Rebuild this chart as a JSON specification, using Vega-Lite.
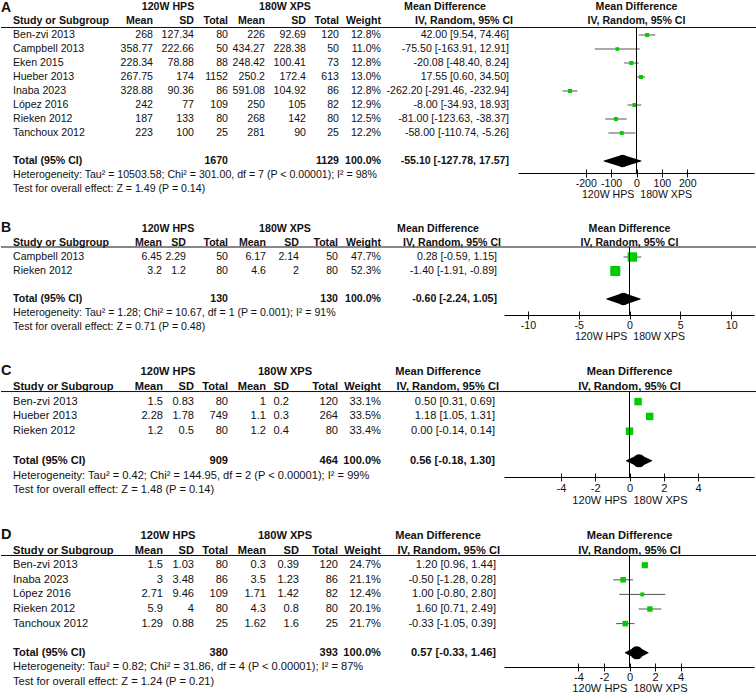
{
"$schema": "https://vega.github.io/schema/vega-lite/v6.json",
"padding": 0,
"background": "white",
"bounds": "flush",
"spacing": 20,
"config": {"view": {"stroke": null}, "text": {"font": "Liberation Sans", "fontSize": 10.6, "color": "#111", "baseline": "middle"}},
"vconcat": [
{
 "width": 756, "height": 173,
 "data": {"values": [
  {"k":"h","st":"Study or Subgroup","m1":"Mean","s1":"SD","n1":"Total","m2":"Mean","s2":"SD","n2":"Total","w":"Weight","ci":"IV, Random, 95% CI"},
  {"k":"s","st":"Ben-zvi 2013","m1":"268","s1":"127.34","n1":"80","m2":"226","s2":"92.69","n2":"120","w":"12.8%","ci":"42.00 [9.54, 74.46]","md":42.00,"lo":9.54,"hi":74.46,"wt":12.8},
  {"k":"s","st":"Campbell 2013","m1":"358.77","s1":"222.66","n1":"50","m2":"434.27","s2":"228.38","n2":"50","w":"11.0%","ci":"-75.50 [-163.91, 12.91]","md":-75.50,"lo":-163.91,"hi":12.91,"wt":11.0},
  {"k":"s","st":"Eken 2015","m1":"228.34","s1":"78.88","n1":"88","m2":"248.42","s2":"100.41","n2":"73","w":"12.8%","ci":"-20.08 [-48.40, 8.24]","md":-20.08,"lo":-48.40,"hi":8.24,"wt":12.8},
  {"k":"s","st":"Hueber 2013","m1":"267.75","s1":"174","n1":"1152","m2":"250.2","s2":"172.4","n2":"613","w":"13.0%","ci":"17.55 [0.60, 34.50]","md":17.55,"lo":0.60,"hi":34.50,"wt":13.0},
  {"k":"s","st":"Inaba 2023","m1":"328.88","s1":"90.36","n1":"86","m2":"591.08","s2":"104.92","n2":"86","w":"12.8%","ci":"-262.20 [-291.46, -232.94]","md":-262.20,"lo":-291.46,"hi":-232.94,"wt":12.8},
  {"k":"s","st":"López 2016","m1":"242","s1":"77","n1":"109","m2":"250","s2":"105","n2":"82","w":"12.9%","ci":"-8.00 [-34.93, 18.93]","md":-8.00,"lo":-34.93,"hi":18.93,"wt":12.9},
  {"k":"s","st":"Rieken 2012","m1":"187","s1":"133","n1":"80","m2":"268","s2":"142","n2":"80","w":"12.5%","ci":"-81.00 [-123.63, -38.37]","md":-81.00,"lo":-123.63,"hi":-38.37,"wt":12.5},
  {"k":"s","st":"Tanchoux 2012","m1":"223","s1":"100","n1":"25","m2":"281","s2":"90","n2":"25","w":"12.2%","ci":"-58.00 [-110.74, -5.26]","md":-58.00,"lo":-110.74,"hi":-5.26,"wt":12.2},
  {"k":"t","st":"Total (95% CI)","n1":"1670","n2":"1129","w":"100.0%","ci":"-55.10 [-127.78, 17.57]","md":-55.10,"lo":-127.78,"hi":17.57,"het":"Heterogeneity: Tau² = 10503.58; Chi² = 301.00, df = 7 (P < 0.00001); I² = 98%","test":"Test for overall effect: Z = 1.49 (P = 0.14)"}
 ]},
 "resolve": {"scale": {"x": "independent"}, "axis": {"x": "independent"}},
 "layer": [
  {"layer": [
   {"mark": {"type": "text", "align": "left", "dx": 12, "fontWeight": {"expr": "datum.k=='s'?'normal':'bold'"}},
    "encoding": {
     "x": {"datum": "st", "type": "nominal", "scale": {"type": "point", "domain": ["st","g1","g2","g3","m1","s1","n1","m2","s2","n2","w","g4","g5","ci"], "range": [0, 494], "padding": 0}, "axis": null},
     "y": {"field": "st", "type": "nominal", "scale": {"type": "band", "domain": ["g","Study or Subgroup","Ben-zvi 2013","Campbell 2013","Eken 2015","Hueber 2013","Inaba 2023","López 2016","Rieken 2012","Tanchoux 2012","b","Total (95% CI)","het","test"], "range": [0, 196], "paddingInner": 0, "paddingOuter": 0}, "axis": null},
     "text": {"field": "st", "type": "nominal"}}},
   {"transform": [{"fold": ["m1","s1","n1","m2","s2","n2","w"], "as": ["key","v"]}, {"filter": "isValid(datum.v)"}],
    "mark": {"type": "text", "align": "right", "dx": {"expr": "datum.key=='s1'?3:datum.key=='n1'?-1:datum.key=='m2'?-2:datum.key=='s2'?1:datum.key=='n2'?-4:0"}, "fontWeight": {"expr": "datum.k=='s'?'normal':'bold'"}},
    "encoding": {"x": {"field": "key", "type": "nominal", "axis": null}, "y": {"field": "st", "type": "nominal", "axis": null}, "text": {"field": "v", "type": "nominal"}}},
   {"mark": {"type": "text", "align": "right", "dx": {"expr": "datum.k=='h'?18:14"}, "fontWeight": {"expr": "datum.k=='s'?'normal':'bold'"}},
    "encoding": {"x": {"datum": "ci", "type": "nominal", "axis": null}, "y": {"field": "st", "type": "nominal", "axis": null}, "text": {"field": "ci", "type": "nominal"}}},
   {"transform": [{"filter": "datum.k=='t'"}, {"fold": ["het","test"], "as": ["yk","txt"]}],
    "mark": {"type": "text", "align": "left", "dx": 12},
    "encoding": {"x": {"datum": "st", "type": "nominal", "axis": null}, "y": {"field": "yk", "type": "nominal", "axis": null}, "text": {"field": "txt", "type": "nominal"}}},
   {"data": {"values": [{"t": "120W HPS", "c": "s1"}, {"t": "180W XPS", "c": "s2"}, {"t": "Mean Difference", "c": "ci"}]},
    "mark": {"type": "text", "align": "center", "fontWeight": "bold", "dx": {"expr": "datum.c=='s1'?-23:datum.c=='s2'?-20:-50"}},
    "encoding": {"x": {"field": "c", "type": "nominal", "axis": null}, "y": {"datum": "g", "type": "nominal", "axis": null}, "text": {"field": "t", "type": "nominal"}}},
   {"data": {"values": [{"t": "A"}]},
    "mark": {"type": "text", "align": "left", "fontWeight": "bold", "fontSize": 14, "dy": 1},
    "encoding": {"x": {"datum": "st", "type": "nominal", "axis": null}, "y": {"datum": "g", "type": "nominal", "axis": null}, "text": {"field": "t", "type": "nominal"}}},
   {"data": {"values": [{}]},
    "mark": {"type": "rule", "color": "#111", "strokeWidth": 1},
    "encoding": {"y": {"datum": "Study or Subgroup", "type": "nominal", "bandPosition": 0.964, "axis": null}}}
  ]},
  {"resolve": {"scale": {"size": "independent"}},
   "layer": [
   {"transform": [{"filter": "datum.k=='s'"}],
    "mark": {"type": "rule", "color": "#555", "strokeWidth": 1},
    "encoding": {
     "x": {"field": "lo", "type": "quantitative", "scale": {"domain": [-465, 465], "range": [517.5, 753.5], "nice": false, "zero": false},
      "axis": {"orient": "bottom", "values": [-200,-100,0,100,200], "domain": false, "grid": false, "offset": -4, "tickSize": 8, "tickColor": "#111", "labelFont": "Liberation Sans", "labelFontSize": 10.6, "labelColor": "#111", "labelPadding": 1, "labelOverlap": false, "labelFlush": false, "labelExpr": "replace(datum.label, '\u2212', '-')", "title": "120W HPS\u00a0\u00a0180W XPS", "titleFont": "Liberation Sans", "titleFontSize": 10.6, "titleFontWeight": "normal", "titleColor": "#111", "titlePadding": 1}},
     "x2": {"field": "hi"},
     "y": {"field": "st", "type": "nominal", "axis": null}}},
   {"transform": [{"filter": "datum.k=='s'"}],
    "mark": {"type": "point", "shape": "square", "filled": true, "color": "#00cc00", "opacity": 1},
    "encoding": {"x": {"field": "md", "type": "quantitative"}, "y": {"field": "st", "type": "nominal", "axis": null},
     "size": {"field": "wt", "type": "quantitative", "scale": {"type": "pow", "exponent": 1.3, "domain": [0, 100], "range": [0, 232]}, "legend": null}}},
   {"transform": [{"filter": "datum.k=='t'"}, {"fold": ["lo","md","hi"], "as": ["dk","v"]}],
    "mark": {"type": "trail", "color": "#000"},
    "encoding": {"x": {"field": "v", "type": "quantitative"}, "y": {"field": "st", "type": "nominal", "axis": null},
     "size": {"field": "dk", "type": "ordinal", "scale": {"type": "ordinal", "domain": ["lo","md","hi"], "range": [0, 12.5, 0]}, "legend": null},
     "order": {"field": "v", "type": "quantitative"}}},
   {"data": {"values": [{}]}, "mark": {"type": "rule", "color": "#000", "strokeWidth": 1},
    "encoding": {"x": {"datum": 0, "type": "quantitative"}, "y": {"datum": "Study or Subgroup", "type": "nominal", "bandPosition": 0.964, "axis": null}, "y2": {"datum": "het", "bandPosition": 0.3929}}},
   {"data": {"values": [{}]}, "mark": {"type": "rule", "color": "#000", "strokeWidth": 1},
    "encoding": {"x": {"datum": -465, "type": "quantitative"}, "x2": {"datum": 465}, "y": {"datum": "het", "type": "nominal", "bandPosition": 0.3929, "axis": null}}},
   {"data": {"values": [{"t": "Mean Difference", "r": "g"}, {"t": "IV, Random, 95% CI", "r": "Study or Subgroup"}]},
    "mark": {"type": "text", "align": "center", "fontWeight": "bold"},
    "encoding": {"x": {"datum": 0, "type": "quantitative"}, "y": {"field": "r", "type": "nominal", "axis": null}, "text": {"field": "t", "type": "nominal"}}}
  ]}
 ]
},
{
 "width": 756, "height": 122,
 "data": {"values": [
  {"k":"h","st":"Study or Subgroup","m1":"Mean","s1":"SD","n1":"Total","m2":"Mean","s2":"SD","n2":"Total","w":"Weight","ci":"IV, Random, 95% CI"},
  {"k":"s","st":"Campbell 2013","m1":"6.45","s1":"2.29","n1":"50","m2":"6.17","s2":"2.14","n2":"50","w":"47.7%","ci":"0.28 [-0.59, 1.15]","md":0.28,"lo":-0.59,"hi":1.15,"wt":47.7},
  {"k":"s","st":"Rieken 2012","m1":"3.2","s1":"1.2","n1":"80","m2":"4.6","s2":"2","n2":"80","w":"52.3%","ci":"-1.40 [-1.91, -0.89]","md":-1.40,"lo":-1.91,"hi":-0.89,"wt":52.3},
  {"k":"t","st":"Total (95% CI)","n1":"130","n2":"130","w":"100.0%","ci":"-0.60 [-2.24, 1.05]","md":-0.60,"lo":-2.24,"hi":1.05,"het":"Heterogeneity: Tau² = 1.28; Chi² = 10.67, df = 1 (P = 0.001); I² = 91%","test":"Test for overall effect: Z = 0.71 (P = 0.48)"}
 ]},
 "resolve": {"scale": {"x": "independent"}, "axis": {"x": "independent"}},
 "layer": [
  {"layer": [
   {"mark": {"type": "text", "align": "left", "dx": 12, "fontWeight": {"expr": "datum.k=='s'?'normal':'bold'"}},
    "encoding": {
     "x": {"datum": "st", "type": "nominal", "scale": {"type": "point", "domain": ["st","g1","g2","g3","m1","s1","n1","m2","s2","n2","w","g4","g5","ci"], "range": [0, 494], "padding": 0}, "axis": null},
     "y": {"field": "st", "type": "nominal", "scale": {"type": "band", "domain": ["g","Study or Subgroup","Campbell 2013","Rieken 2012","b","Total (95% CI)","het","test"], "range": [29, 141], "paddingInner": 0, "paddingOuter": 0}, "axis": null},
     "text": {"field": "st", "type": "nominal"}}},
   {"transform": [{"fold": ["m1","s1","n1","m2","s2","n2","w"], "as": ["key","v"]}, {"filter": "isValid(datum.v)"}],
    "mark": {"type": "text", "align": "right", "dx": {"expr": "datum.key=='m1'?9:datum.key=='s1'?-5:datum.key=='n1'?-1:datum.key=='m2'?-1:datum.key=='s2'?-6:datum.key=='n2'?-5:0"}, "fontWeight": {"expr": "datum.k=='s'?'normal':'bold'"}},
    "encoding": {"x": {"field": "key", "type": "nominal", "axis": null}, "y": {"field": "st", "type": "nominal", "axis": null}, "text": {"field": "v", "type": "nominal"}}},
   {"mark": {"type": "text", "align": "right", "dx": {"expr": "datum.k=='h'?6:2"}, "fontWeight": {"expr": "datum.k=='s'?'normal':'bold'"}},
    "encoding": {"x": {"datum": "ci", "type": "nominal", "axis": null}, "y": {"field": "st", "type": "nominal", "axis": null}, "text": {"field": "ci", "type": "nominal"}}},
   {"transform": [{"filter": "datum.k=='t'"}, {"fold": ["het","test"], "as": ["yk","txt"]}],
    "mark": {"type": "text", "align": "left", "dx": 12},
    "encoding": {"x": {"datum": "st", "type": "nominal", "axis": null}, "y": {"field": "yk", "type": "nominal", "axis": null}, "text": {"field": "txt", "type": "nominal"}}},
   {"data": {"values": [{"t": "120W HPS", "c": "s1"}, {"t": "180W XPS", "c": "s2"}, {"t": "Mean Difference", "c": "ci"}]},
    "mark": {"type": "text", "align": "center", "fontWeight": "bold", "dx": {"expr": "datum.c=='s1'?-23:datum.c=='s2'?-20:-57"}},
    "encoding": {"x": {"field": "c", "type": "nominal", "axis": null}, "y": {"datum": "g", "type": "nominal", "axis": null}, "text": {"field": "t", "type": "nominal"}}},
   {"data": {"values": [{"t": "B"}]},
    "mark": {"type": "text", "align": "left", "fontWeight": "bold", "fontSize": 14, "dy": -1},
    "encoding": {"x": {"datum": "st", "type": "nominal", "axis": null}, "y": {"datum": "g", "type": "nominal", "axis": null}, "text": {"field": "t", "type": "nominal"}}},
   {"data": {"values": [{}]},
    "mark": {"type": "rule", "color": "#111", "strokeWidth": 1},
    "encoding": {"y": {"datum": "Study or Subgroup", "type": "nominal", "bandPosition": 0.786, "axis": null}}}
  ]},
  {"resolve": {"scale": {"size": "independent"}},
   "layer": [
   {"transform": [{"filter": "datum.k=='s'"}],
    "mark": {"type": "rule", "color": "#555", "strokeWidth": 1},
    "encoding": {
     "x": {"field": "lo", "type": "quantitative", "scale": {"domain": [-12.3, 12.3], "range": [503.5, 753.5], "nice": false, "zero": false},
      "axis": {"orient": "bottom", "values": [-10,-5,0,5,10], "domain": false, "grid": false, "offset": -4, "tickSize": 8, "tickColor": "#111", "labelFont": "Liberation Sans", "labelFontSize": 10.6, "labelColor": "#111", "labelPadding": 1, "labelOverlap": false, "labelFlush": false, "labelExpr": "replace(datum.label, '\u2212', '-')", "title": "120W HPS\u00a0\u00a0180W XPS", "titleFont": "Liberation Sans", "titleFontSize": 10.6, "titleFontWeight": "normal", "titleColor": "#111", "titlePadding": 1}},
     "x2": {"field": "hi"},
     "y": {"field": "st", "type": "nominal", "axis": null}}},
   {"transform": [{"filter": "datum.k=='s'"}],
    "mark": {"type": "point", "shape": "square", "filled": true, "color": "#00cc00", "opacity": 1},
    "encoding": {"x": {"field": "md", "type": "quantitative"}, "y": {"field": "st", "type": "nominal", "axis": null},
     "size": {"field": "wt", "type": "quantitative", "scale": {"type": "pow", "exponent": 1.3, "domain": [0, 100], "range": [0, 232]}, "legend": null}}},
   {"transform": [{"filter": "datum.k=='t'"}, {"fold": ["lo","md","hi"], "as": ["dk","v"]}],
    "mark": {"type": "trail", "color": "#000"},
    "encoding": {"x": {"field": "v", "type": "quantitative"}, "y": {"field": "st", "type": "nominal", "axis": null},
     "size": {"field": "dk", "type": "ordinal", "scale": {"type": "ordinal", "domain": ["lo","md","hi"], "range": [0, 12.5, 0]}, "legend": null},
     "order": {"field": "v", "type": "quantitative"}}},
   {"data": {"values": [{}]}, "mark": {"type": "rule", "color": "#000", "strokeWidth": 1},
    "encoding": {"x": {"datum": 0, "type": "quantitative"}, "y": {"datum": "Study or Subgroup", "type": "nominal", "bandPosition": 0.786, "axis": null}, "y2": {"datum": "het", "bandPosition": 0.6786}}},
   {"data": {"values": [{}]}, "mark": {"type": "rule", "color": "#000", "strokeWidth": 1},
    "encoding": {"x": {"datum": -12.3, "type": "quantitative"}, "x2": {"datum": 12.3}, "y": {"datum": "het", "type": "nominal", "bandPosition": 0.6786, "axis": null}}},
   {"data": {"values": [{"t": "Mean Difference", "r": "g"}, {"t": "IV, Random, 95% CI", "r": "Study or Subgroup"}]},
    "mark": {"type": "text", "align": "center", "fontWeight": "bold"},
    "encoding": {"x": {"datum": 0, "type": "quantitative"}, "y": {"field": "r", "type": "nominal", "axis": null}, "text": {"field": "t", "type": "nominal"}}}
  ]}
 ]
},
{
 "width": 756, "height": 142,
 "data": {"values": [
  {"k":"h","st":"Study or Subgroup","m1":"Mean","s1":"SD","n1":"Total","m2":"Mean","s2":"SD","n2":"Total","w":"Weight","ci":"IV, Random, 95% CI"},
  {"k":"s","st":"Ben-zvi 2013","m1":"1.5","s1":"0.83","n1":"80","m2":"1","s2":"0.2","n2":"120","w":"33.1%","ci":"0.50 [0.31, 0.69]","md":0.50,"lo":0.31,"hi":0.69,"wt":33.1},
  {"k":"s","st":"Hueber 2013","m1":"2.28","s1":"1.78","n1":"749","m2":"1.1","s2":"0.3","n2":"264","w":"33.5%","ci":"1.18 [1.05, 1.31]","md":1.18,"lo":1.05,"hi":1.31,"wt":33.5},
  {"k":"s","st":"Rieken 2012","m1":"1.2","s1":"0.5","n1":"80","m2":"1.2","s2":"0.4","n2":"80","w":"33.4%","ci":"0.00 [-0.14, 0.14]","md":0.00,"lo":-0.14,"hi":0.14,"wt":33.4},
  {"k":"t","st":"Total (95% CI)","n1":"909","n2":"464","w":"100.0%","ci":"0.56 [-0.18, 1.30]","md":0.56,"lo":-0.18,"hi":1.30,"het":"Heterogeneity: Tau² = 0.42; Chi² = 144.95, df = 2 (P < 0.00001); I² = 99%","test":"Test for overall effect: Z = 1.48 (P = 0.14)"}
 ]},
 "resolve": {"scale": {"x": "independent"}, "axis": {"x": "independent"}},
 "layer": [
  {"layer": [
   {"mark": {"type": "text", "align": "left", "dx": 12, "fontSize": 11.1, "fontWeight": {"expr": "datum.k=='s'?'normal':'bold'"}},
    "encoding": {
     "x": {"datum": "st", "type": "nominal", "scale": {"type": "point", "domain": ["st","g1","g2","g3","m1","s1","n1","m2","s2","n2","w","g4","g5","ci"], "range": [0, 494], "padding": 0}, "axis": null},
     "y": {"field": "st", "type": "nominal", "scale": {"type": "band", "domain": ["g","Study or Subgroup","Ben-zvi 2013","Hueber 2013","Rieken 2012","b","Total (95% CI)","het","test"], "range": [29.6, 162.8], "paddingInner": 0, "paddingOuter": 0}, "axis": null},
     "text": {"field": "st", "type": "nominal"}}},
   {"transform": [{"fold": ["m1","s1","n1","m2","s2","n2","w"], "as": ["key","v"]}, {"filter": "isValid(datum.v)"}],
    "mark": {"type": "text", "align": "right", "fontSize": 11.1, "dx": {"expr": "datum.key=='m1'?10:datum.key=='s1'?3:datum.key=='n1'?-1:datum.key=='m2'?-1:datum.key=='s2'?-16:datum.key=='n2'?-5:0"}, "fontWeight": {"expr": "datum.k=='s'?'normal':'bold'"}},
    "encoding": {"x": {"field": "key", "type": "nominal", "axis": null}, "y": {"field": "st", "type": "nominal", "axis": null}, "text": {"field": "v", "type": "nominal"}}},
   {"mark": {"type": "text", "align": "right", "fontSize": 11.1, "dx": {"expr": "datum.k=='h'?4:0"}, "fontWeight": {"expr": "datum.k=='s'?'normal':'bold'"}},
    "encoding": {"x": {"datum": "ci", "type": "nominal", "axis": null}, "y": {"field": "st", "type": "nominal", "axis": null}, "text": {"field": "ci", "type": "nominal"}}},
   {"transform": [{"filter": "datum.k=='t'"}, {"fold": ["het","test"], "as": ["yk","txt"]}],
    "mark": {"type": "text", "align": "left", "dx": 12, "fontSize": 11.1},
    "encoding": {"x": {"datum": "st", "type": "nominal", "axis": null}, "y": {"field": "yk", "type": "nominal", "axis": null}, "text": {"field": "txt", "type": "nominal"}}},
   {"data": {"values": [{"t": "120W HPS", "c": "s1"}, {"t": "180W XPS", "c": "s2"}, {"t": "Mean Difference", "c": "ci"}]},
    "mark": {"type": "text", "align": "center", "fontWeight": "bold", "fontSize": 11.1, "dx": {"expr": "datum.c=='s1'?-23:datum.c=='s2'?-20:-57"}},
    "encoding": {"x": {"field": "c", "type": "nominal", "axis": null}, "y": {"datum": "g", "type": "nominal", "axis": null}, "text": {"field": "t", "type": "nominal"}}},
   {"data": {"values": [{"t": "C"}]},
    "mark": {"type": "text", "align": "left", "fontWeight": "bold", "fontSize": 14.5, "dy": -1},
    "encoding": {"x": {"datum": "st", "type": "nominal", "axis": null}, "y": {"datum": "g", "type": "nominal", "axis": null}, "text": {"field": "t", "type": "nominal"}}},
   {"data": {"values": [{}]},
    "mark": {"type": "rule", "color": "#111", "strokeWidth": 1},
    "encoding": {"y": {"datum": "Study or Subgroup", "type": "nominal", "bandPosition": 0.82, "axis": null}}}
  ]},
  {"resolve": {"scale": {"size": "independent"}},
   "layer": [
   {"transform": [{"filter": "datum.k=='s'"}],
    "mark": {"type": "rule", "color": "#555", "strokeWidth": 1},
    "encoding": {
     "x": {"field": "lo", "type": "quantitative", "scale": {"domain": [-7.3, 7.3], "range": [503.5, 753.5], "nice": false, "zero": false},
      "axis": {"orient": "bottom", "values": [-4,-2,0,2,4], "domain": false, "grid": false, "offset": -4, "tickSize": 8, "tickColor": "#111", "labelFont": "Liberation Sans", "labelFontSize": 11.1, "labelColor": "#111", "labelPadding": 1, "labelOverlap": false, "labelFlush": false, "labelExpr": "replace(datum.label, '\u2212', '-')", "title": "120W HPS\u00a0\u00a0180W XPS", "titleFont": "Liberation Sans", "titleFontSize": 11.1, "titleFontWeight": "normal", "titleColor": "#111", "titlePadding": 1}},
     "x2": {"field": "hi"},
     "y": {"field": "st", "type": "nominal", "axis": null}}},
   {"transform": [{"filter": "datum.k=='s'"}],
    "mark": {"type": "point", "shape": "square", "filled": true, "color": "#00cc00", "opacity": 1},
    "encoding": {"x": {"field": "md", "type": "quantitative"}, "y": {"field": "st", "type": "nominal", "axis": null},
     "size": {"field": "wt", "type": "quantitative", "scale": {"type": "pow", "exponent": 1.3, "domain": [0, 100], "range": [0, 232]}, "legend": null}}},
   {"transform": [{"filter": "datum.k=='t'"}, {"fold": ["lo","md","hi"], "as": ["dk","v"]}],
    "mark": {"type": "trail", "color": "#000"},
    "encoding": {"x": {"field": "v", "type": "quantitative"}, "y": {"field": "st", "type": "nominal", "axis": null},
     "size": {"field": "dk", "type": "ordinal", "scale": {"type": "ordinal", "domain": ["lo","md","hi"], "range": [0, 13, 0]}, "legend": null},
     "order": {"field": "v", "type": "quantitative"}}},
   {"data": {"values": [{}]}, "mark": {"type": "rule", "color": "#000", "strokeWidth": 1},
    "encoding": {"x": {"datum": 0, "type": "quantitative"}, "y": {"datum": "Study or Subgroup", "type": "nominal", "bandPosition": 0.82, "axis": null}, "y2": {"datum": "het", "bandPosition": 0.628}}},
   {"data": {"values": [{}]}, "mark": {"type": "rule", "color": "#000", "strokeWidth": 1},
    "encoding": {"x": {"datum": -7.3, "type": "quantitative"}, "x2": {"datum": 7.3}, "y": {"datum": "het", "type": "nominal", "bandPosition": 0.628, "axis": null}}},
   {"data": {"values": [{"t": "Mean Difference", "r": "g"}, {"t": "IV, Random, 95% CI", "r": "Study or Subgroup"}]},
    "mark": {"type": "text", "align": "center", "fontWeight": "bold", "fontSize": 11.1},
    "encoding": {"x": {"datum": 0, "type": "quantitative"}, "y": {"field": "r", "type": "nominal", "axis": null}, "text": {"field": "t", "type": "nominal"}}}
  ]}
 ]
},
{
 "width": 756, "height": 170,
 "data": {"values": [
  {"k":"h","st":"Study or Subgroup","m1":"Mean","s1":"SD","n1":"Total","m2":"Mean","s2":"SD","n2":"Total","w":"Weight","ci":"IV, Random, 95% CI"},
  {"k":"s","st":"Ben-zvi 2013","m1":"1.5","s1":"1.03","n1":"80","m2":"0.3","s2":"0.39","n2":"120","w":"24.7%","ci":"1.20 [0.96, 1.44]","md":1.20,"lo":0.96,"hi":1.44,"wt":24.7},
  {"k":"s","st":"Inaba 2023","m1":"3","s1":"3.48","n1":"86","m2":"3.5","s2":"1.23","n2":"86","w":"21.1%","ci":"-0.50 [-1.28, 0.28]","md":-0.50,"lo":-1.28,"hi":0.28,"wt":21.1},
  {"k":"s","st":"López 2016","m1":"2.71","s1":"9.46","n1":"109","m2":"1.71","s2":"1.42","n2":"82","w":"12.4%","ci":"1.00 [-0.80, 2.80]","md":1.00,"lo":-0.80,"hi":2.80,"wt":12.4},
  {"k":"s","st":"Rieken 2012","m1":"5.9","s1":"4","n1":"80","m2":"4.3","s2":"0.8","n2":"80","w":"20.1%","ci":"1.60 [0.71, 2.49]","md":1.60,"lo":0.71,"hi":2.49,"wt":20.1},
  {"k":"s","st":"Tanchoux 2012","m1":"1.29","s1":"0.88","n1":"25","m2":"1.62","s2":"1.6","n2":"25","w":"21.7%","ci":"-0.33 [-1.05, 0.39]","md":-0.33,"lo":-1.05,"hi":0.39,"wt":21.7},
  {"k":"t","st":"Total (95% CI)","n1":"380","n2":"393","w":"100.0%","ci":"0.57 [-0.33, 1.46]","md":0.57,"lo":-0.33,"hi":1.46,"het":"Heterogeneity: Tau² = 0.82; Chi² = 31.86, df = 4 (P < 0.00001); I² = 87%","test":"Test for overall effect: Z = 1.24 (P = 0.21)"}
 ]},
 "resolve": {"scale": {"x": "independent"}, "axis": {"x": "independent"}},
 "layer": [
  {"layer": [
   {"mark": {"type": "text", "align": "left", "dx": 12, "fontSize": 11.1, "fontWeight": {"expr": "datum.k=='s'?'normal':'bold'"}},
    "encoding": {
     "x": {"datum": "st", "type": "nominal", "scale": {"type": "point", "domain": ["st","g1","g2","g3","m1","s1","n1","m2","s2","n2","w","g4","g5","ci"], "range": [0, 494], "padding": 0}, "axis": null},
     "y": {"field": "st", "type": "nominal", "scale": {"type": "band", "domain": ["g","Study or Subgroup","Ben-zvi 2013","Inaba 2023","López 2016","Rieken 2012","Tanchoux 2012","b","Total (95% CI)","het","test"], "range": [31.7, 192.3], "paddingInner": 0, "paddingOuter": 0}, "axis": null},
     "text": {"field": "st", "type": "nominal"}}},
   {"transform": [{"fold": ["m1","s1","n1","m2","s2","n2","w"], "as": ["key","v"]}, {"filter": "isValid(datum.v)"}],
    "mark": {"type": "text", "align": "right", "fontSize": 11.1, "dx": {"expr": "datum.key=='m1'?10:datum.key=='s1'?3:datum.key=='n1'?-1:datum.key=='m2'?-1:datum.key=='s2'?-6:datum.key=='n2'?-5:0"}, "fontWeight": {"expr": "datum.k=='s'?'normal':'bold'"}},
    "encoding": {"x": {"field": "key", "type": "nominal", "axis": null}, "y": {"field": "st", "type": "nominal", "axis": null}, "text": {"field": "v", "type": "nominal"}}},
   {"mark": {"type": "text", "align": "right", "fontSize": 11.1, "dx": {"expr": "datum.k=='h'?5:1"}, "fontWeight": {"expr": "datum.k=='s'?'normal':'bold'"}},
    "encoding": {"x": {"datum": "ci", "type": "nominal", "axis": null}, "y": {"field": "st", "type": "nominal", "axis": null}, "text": {"field": "ci", "type": "nominal"}}},
   {"transform": [{"filter": "datum.k=='t'"}, {"fold": ["het","test"], "as": ["yk","txt"]}],
    "mark": {"type": "text", "align": "left", "dx": 12, "fontSize": 11.1},
    "encoding": {"x": {"datum": "st", "type": "nominal", "axis": null}, "y": {"field": "yk", "type": "nominal", "axis": null}, "text": {"field": "txt", "type": "nominal"}}},
   {"data": {"values": [{"t": "120W HPS", "c": "s1"}, {"t": "180W XPS", "c": "s2"}, {"t": "Mean Difference", "c": "ci"}]},
    "mark": {"type": "text", "align": "center", "fontWeight": "bold", "fontSize": 11.1, "dx": {"expr": "datum.c=='s1'?-23:datum.c=='s2'?-20:-57"}},
    "encoding": {"x": {"field": "c", "type": "nominal", "axis": null}, "y": {"datum": "g", "type": "nominal", "axis": null}, "text": {"field": "t", "type": "nominal"}}},
   {"data": {"values": [{"t": "D"}]},
    "mark": {"type": "text", "align": "left", "fontWeight": "bold", "fontSize": 14.5, "dy": -1},
    "encoding": {"x": {"datum": "st", "type": "nominal", "axis": null}, "y": {"datum": "g", "type": "nominal", "axis": null}, "text": {"field": "t", "type": "nominal"}}},
   {"data": {"values": [{}]},
    "mark": {"type": "rule", "color": "#111", "strokeWidth": 1},
    "encoding": {"y": {"datum": "Study or Subgroup", "type": "nominal", "bandPosition": 0.836, "axis": null}}}
  ]},
  {"resolve": {"scale": {"size": "independent"}},
   "layer": [
   {"transform": [{"filter": "datum.k=='s'"}],
    "mark": {"type": "rule", "color": "#555", "strokeWidth": 1},
    "encoding": {
     "x": {"field": "lo", "type": "quantitative", "scale": {"domain": [-9.8, 9.8], "range": [503.5, 753.5], "nice": false, "zero": false},
      "axis": {"orient": "bottom", "values": [-4,-2,0,2,4], "domain": false, "grid": false, "offset": -4, "tickSize": 8, "tickColor": "#111", "labelFont": "Liberation Sans", "labelFontSize": 11.1, "labelColor": "#111", "labelPadding": 0, "labelOverlap": false, "labelFlush": false, "labelExpr": "replace(datum.label, '\u2212', '-')", "title": "120W HPS\u00a0\u00a0180W XPS", "titleFont": "Liberation Sans", "titleFontSize": 11.1, "titleFontWeight": "normal", "titleColor": "#111", "titlePadding": 0}},
     "x2": {"field": "hi"},
     "y": {"field": "st", "type": "nominal", "axis": null}}},
   {"transform": [{"filter": "datum.k=='s'"}],
    "mark": {"type": "point", "shape": "square", "filled": true, "color": "#00cc00", "opacity": 1},
    "encoding": {"x": {"field": "md", "type": "quantitative"}, "y": {"field": "st", "type": "nominal", "axis": null},
     "size": {"field": "wt", "type": "quantitative", "scale": {"type": "pow", "exponent": 1.3, "domain": [0, 100], "range": [0, 232]}, "legend": null}}},
   {"transform": [{"filter": "datum.k=='t'"}, {"fold": ["lo","md","hi"], "as": ["dk","v"]}],
    "mark": {"type": "trail", "color": "#000"},
    "encoding": {"x": {"field": "v", "type": "quantitative"}, "y": {"field": "st", "type": "nominal", "axis": null},
     "size": {"field": "dk", "type": "ordinal", "scale": {"type": "ordinal", "domain": ["lo","md","hi"], "range": [0, 13, 0]}, "legend": null},
     "order": {"field": "v", "type": "quantitative"}}},
   {"data": {"values": [{}]}, "mark": {"type": "rule", "color": "#000", "strokeWidth": 1},
    "encoding": {"x": {"datum": 0, "type": "quantitative"}, "y": {"datum": "Study or Subgroup", "type": "nominal", "bandPosition": 0.836, "axis": null}, "y2": {"datum": "het", "bandPosition": 0.507}}},
   {"data": {"values": [{}]}, "mark": {"type": "rule", "color": "#000", "strokeWidth": 1},
    "encoding": {"x": {"datum": -9.8, "type": "quantitative"}, "x2": {"datum": 9.8}, "y": {"datum": "het", "type": "nominal", "bandPosition": 0.507, "axis": null}}},
   {"data": {"values": [{"t": "Mean Difference", "r": "g"}, {"t": "IV, Random, 95% CI", "r": "Study or Subgroup"}]},
    "mark": {"type": "text", "align": "center", "fontWeight": "bold", "fontSize": 11.1},
    "encoding": {"x": {"datum": 0, "type": "quantitative"}, "y": {"field": "r", "type": "nominal", "axis": null}, "text": {"field": "t", "type": "nominal"}}}
  ]}
 ]
}
]
}
